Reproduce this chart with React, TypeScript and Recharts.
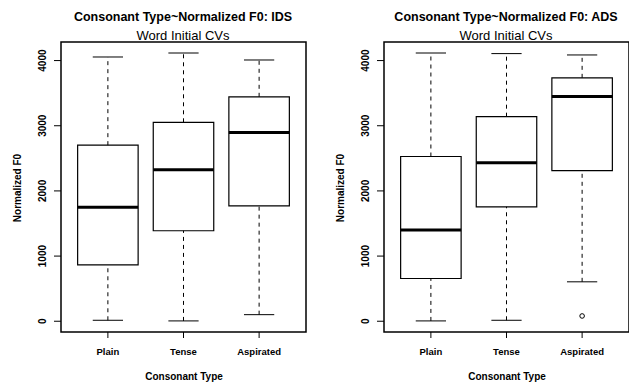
import React from 'react';
import { ComposedChart, XAxis, YAxis, ReferenceLine, ReferenceArea, Scatter } from 'recharts';

const categories = ['Plain', 'Tense', 'Aspirated'];
const yTicks = [0, 1000, 2000, 3000, 4000];

const idsLower = [15, 5, 101];
const idsQ1 = [864, 1389, 1771];
const idsMedian = [1750, 2325, 2895];
const idsQ3 = [2702, 3053, 3444];
const idsUpper = [4055, 4116, 4009];
const idsOutliers: { x: number; y: number }[] = [];

const adsLower = [5, 15, 605];
const adsQ1 = [656, 1756, 2310];
const adsMedian = [1399, 2432, 3450];
const adsQ3 = [2528, 3139, 3735];
const adsUpper = [4116, 4107, 4086];
const adsOutliers = [{ x: 3, y: 81 }];

const FONT = '"Liberation Sans", Arial, Helvetica, sans-serif';
const X_DOMAIN: [number, number] = [0.38, 3.62];
const Y_DOMAIN: [number, number] = [-165, 4285];
const BOX_HALF = 0.4;
const CAP_HALF = 0.2;

type PanelProps = {
  lower: number[];
  q1: number[];
  median: number[];
  q3: number[];
  upper: number[];
  outliers: { x: number; y: number }[];
};

const XTick = (props: any) => {
  const { x, y, payload } = props;
  return (
    <text x={x} y={y + 15} textAnchor="middle" fontFamily={FONT} fontSize={9.5} fontWeight="bold" fill="#000">
      {categories[payload.value - 1]}
    </text>
  );
};

const YTick = (props: any) => {
  const { x, y, payload } = props;
  const bx = x - 6;
  return (
    <text x={bx} y={y} textAnchor="middle" fontFamily={FONT} fontSize={10} fontWeight="bold" fill="#000" transform={`rotate(-90 ${bx} ${y})`}>
      {payload.value}
    </text>
  );
};

const OutlierShape = (props: any) => (
  <circle cx={props.cx} cy={props.cy} r={2.3} fill="none" stroke="#000" strokeWidth={1} />
);

function Panel({ lower, q1, median, q3, upper, outliers }: PanelProps) {
  const elems: React.ReactNode[] = [];
  categories.forEach((_, i) => {
    const c = i + 1;
    elems.push(
      <ReferenceLine key={`wu${i}`} segment={[{ x: c, y: q3[i] }, { x: c, y: upper[i] }]} stroke="#000" strokeWidth={1} strokeDasharray="4 4" ifOverflow="visible" />,
      <ReferenceLine key={`wl${i}`} segment={[{ x: c, y: lower[i] }, { x: c, y: q1[i] }]} stroke="#000" strokeWidth={1} strokeDasharray="4 4" ifOverflow="visible" />,
      <ReferenceLine key={`cu${i}`} segment={[{ x: c - CAP_HALF, y: upper[i] }, { x: c + CAP_HALF, y: upper[i] }]} stroke="#000" strokeWidth={1} ifOverflow="visible" />,
      <ReferenceLine key={`cl${i}`} segment={[{ x: c - CAP_HALF, y: lower[i] }, { x: c + CAP_HALF, y: lower[i] }]} stroke="#000" strokeWidth={1} ifOverflow="visible" />,
      <ReferenceArea key={`b${i}`} x1={c - BOX_HALF} x2={c + BOX_HALF} y1={q1[i]} y2={q3[i]} fill="none" fillOpacity={0} stroke="#000" strokeWidth={1.2} ifOverflow="visible" />,
      <ReferenceLine key={`m${i}`} segment={[{ x: c - BOX_HALF, y: median[i] }, { x: c + BOX_HALF, y: median[i] }]} stroke="#000" strokeWidth={3} ifOverflow="visible" />
    );
  });
  return (
    <ComposedChart width={310} height={383} margin={{ top: 42, right: 4, bottom: 0, left: 0 }}>
      <XAxis
        type="number"
        dataKey="x"
        domain={X_DOMAIN}
        ticks={[1, 2, 3]}
        allowDataOverflow
        height={51}
        axisLine={false}
        tickSize={6}
        tickLine={{ stroke: '#000', strokeWidth: 1 }}
        tick={<XTick />}
        interval={0}
      />
      <YAxis
        type="number"
        dataKey="y"
        domain={Y_DOMAIN}
        ticks={yTicks}
        allowDataOverflow
        width={61}
        axisLine={false}
        tickSize={7}
        tickLine={{ stroke: '#000', strokeWidth: 1 }}
        tick={<YTick />}
        interval={0}
      />
      <ReferenceArea x1={X_DOMAIN[0]} x2={X_DOMAIN[1]} y1={Y_DOMAIN[0]} y2={Y_DOMAIN[1]} fill="none" fillOpacity={0} stroke="#000" strokeWidth={1.5} ifOverflow="visible" />
      {elems}
      <Scatter data={outliers} dataKey="y" isAnimationActive={false} shape={<OutlierShape />} />
    </ComposedChart>
  );
}

const titleStyle: React.CSSProperties = {
  position: 'absolute',
  fontFamily: FONT,
  fontWeight: 'bold',
  fontSize: 12.5,
  whiteSpace: 'nowrap',
  transform: 'translateX(-50%)',
  lineHeight: '12px',
};
const subStyle: React.CSSProperties = { ...titleStyle, fontWeight: 'normal', fontSize: 13 };
const xLabStyle: React.CSSProperties = { ...titleStyle, fontSize: 10, lineHeight: '10px' };
const yLabStyle: React.CSSProperties = {
  position: 'absolute',
  fontFamily: FONT,
  fontWeight: 'bold',
  fontSize: 10,
  lineHeight: '10px',
  whiteSpace: 'nowrap',
  transform: 'translate(-50%, -50%) rotate(-90deg)',
};

export default function App() {
  return (
    <div style={{ position: 'absolute', left: 0, top: 0, width: 629, height: 383, background: '#fff', overflow: 'hidden' }}>
      <div style={{ position: 'absolute', left: 0, top: 0 }}>
        <Panel lower={idsLower} q1={idsQ1} median={idsMedian} q3={idsQ3} upper={idsUpper} outliers={idsOutliers} />
      </div>
      <div style={{ position: 'absolute', left: 323, top: 0 }}>
        <Panel lower={adsLower} q1={adsQ1} median={adsMedian} q3={adsQ3} upper={adsUpper} outliers={adsOutliers} />
      </div>
      <div style={{ ...titleStyle, left: 183, top: 11 }}>Consonant Type~Normalized F0: IDS</div>
      <div style={{ ...subStyle, left: 183, top: 30 }}>Word Initial CVs</div>
      <div style={{ ...titleStyle, left: 506, top: 11 }}>Consonant Type~Normalized F0: ADS</div>
      <div style={{ ...subStyle, left: 506, top: 30 }}>Word Initial CVs</div>
      <div style={{ ...xLabStyle, left: 184, top: 372 }}>Consonant Type</div>
      <div style={{ ...xLabStyle, left: 507, top: 372 }}>Consonant Type</div>
      <div style={{ ...yLabStyle, left: 18, top: 188 }}>Normalized F0</div>
      <div style={{ ...yLabStyle, left: 341, top: 188 }}>Normalized F0</div>
    </div>
  );
}
